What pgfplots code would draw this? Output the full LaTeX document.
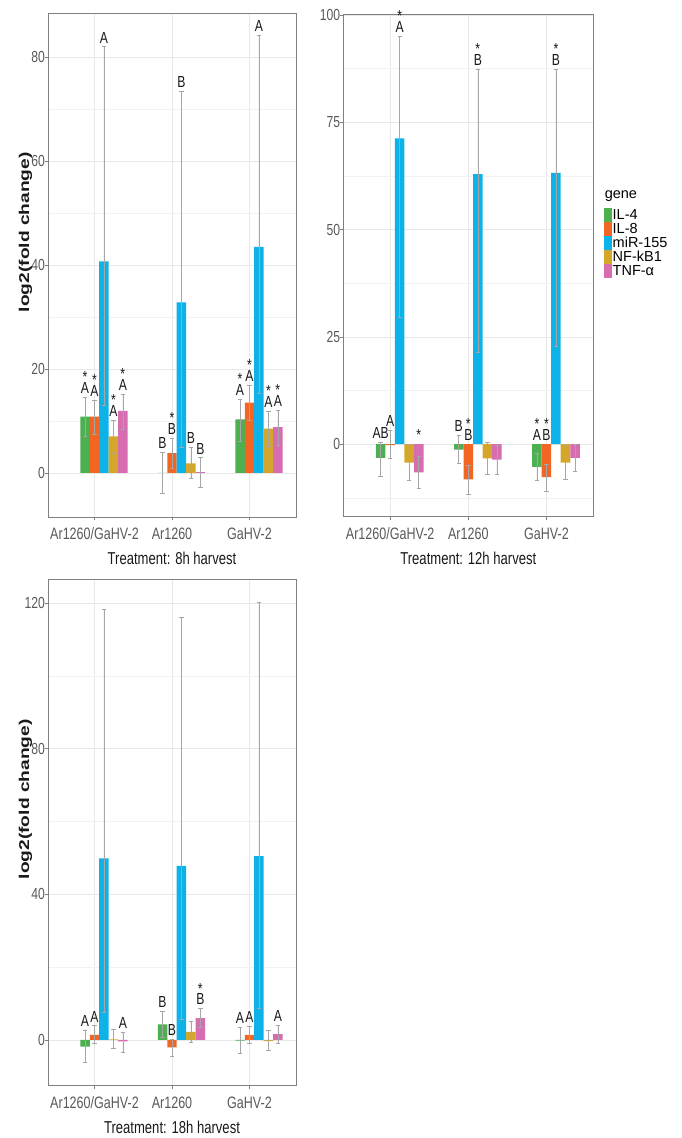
\documentclass[border=0pt]{standalone}
\usepackage{pgfplots}
\pgfplotsset{compat=1.18}
\usepackage{fontspec}
\setmainfont[FakeStretch=0.76]{Liberation Sans}
\newfontfamily\legfont{Liberation Sans}
\definecolor{cG}{HTML}{4CAF50}
\definecolor{cO}{HTML}{F26522}
\definecolor{cB}{HTML}{0DB2E8}
\definecolor{cN}{HTML}{D4A72C}
\definecolor{cP}{HTML}{D86CB1}
\pgfplotsset{
  panel/.style={
    scale only axis, clip=false,
    xmin=0.4, xmax=3.6, xtick={1,2,3},
    xticklabels={Ar1260/GaHV-2, Ar1260, GaHV-2},
    axis line style={color=black!50, line width=0.8pt},
    tick style={color=black!50, line width=0.6pt},
    tick pos=left,
    tick align=outside, major tick length=3.5pt, minor tick length=0pt,
    xmajorgrids, ymajorgrids, yminorgrids, minor y tick num=1,
    major grid style={color=black!9, line width=0.5pt},
    minor grid style={color=black!5, line width=0.4pt},
    /pgf/number format/assume math mode=true,
    ticklabel style={font=\fontsize{16.5}{18}\selectfont, color=black!65},
    xticklabel style={anchor=base, yshift=-19.5pt, inner sep=0pt},
    yticklabel style={anchor=east, inner sep=0pt, xshift=0.5pt, font=\fontsize{16}{18}\selectfont},
    xlabel style={at={(axis description cs:0.5,0)}, anchor=base, yshift=-48pt,
      font=\fontsize{17.2}{19}\selectfont, color=black!90},
    ylabel style={at={(axis description cs:-0.091,0.565)}, anchor=center, yscale=0.74,
      font=\legfont\bfseries\fontsize{19.2}{21}\selectfont, color=black!90},
    ybar, bar width=0.122, bar shift=0pt,
    error bars/y dir=both, error bars/y explicit,
    error bars/error bar style={color=black!35, line width=0.6pt},
    error bars/error mark options={color=black!35, line width=0.6pt, mark size=2.2pt, rotate=90},
  },
}
\tikzset{
  lab/.style={anchor=south, inner sep=0pt, yshift=3.5pt, align=center,
    font=\fontsize{16}{15}\selectfont, text=black!90},
}
\newcommand{\lab}[3]{\node[lab] at (axis cs:#1,#2) {#3};}
\newcommand{\sA}{*\\[-4.5pt]A}
\newcommand{\sB}{*\\[-4.5pt]B}
\begin{document}
\begin{tikzpicture}
\path[use as bounding box] (0,0) rectangle (682pt,1138pt);

% ---------------- 8h ----------------
\begin{axis}[panel, at={(48pt,621pt)}, anchor=south west,
  width=248pt, height=504pt, ymin=-8.5, ymax=88.5,
  ytick={0,20,40,60,80}, ylabel={log2(fold change)},
  xlabel={Treatment: 8h harvest}]
\addplot[fill=cG, draw=none] table[x=x, y=y, y error plus=ep, y error minus=em, row sep=\\]{
x y ep em\\ 0.878 10.8 3.8 3.8\\ 1.878 0 4.0 4.0\\ 2.878 10.3 3.9 4.3\\};
\addplot[fill=cO, draw=none] table[x=x, y=y, y error plus=ep, y error minus=em, row sep=\\]{
x y ep em\\ 1 10.8 3.2 3.3\\ 2 3.8 2.9 2.9\\ 3 13.5 3.4 3.4\\};
\addplot[fill=cB, draw=none] table[x=x, y=y, y error plus=ep, y error minus=em, row sep=\\]{
x y ep em\\ 1.122 40.7 41.3 27.7\\ 2.122 32.8 40.7 27.9\\ 3.122 43.5 40.7 28.1\\};
\addplot[fill=cN, draw=none] table[x=x, y=y, y error plus=ep, y error minus=em, row sep=\\]{
x y ep em\\ 1.244 7.0 3.2 3.2\\ 2.244 1.8 3.1 2.8\\ 3.244 8.5 3.4 3.3\\};
\addplot[fill=cP, draw=none] table[x=x, y=y, y error plus=ep, y error minus=em, row sep=\\]{
x y ep em\\ 1.366 11.9 3.3 3.5\\ 2.366 0.15 2.75 2.95\\ 3.366 8.8 3.3 3.5\\};
\lab{0.878}{14.6}{\sA}\lab{1}{14.0}{\sA}\lab{1.122}{82.0}{A}\lab{1.244}{10.2}{\sA}\lab{1.366}{15.2}{\sA}
\lab{1.878}{4.0}{B}\lab{2}{6.7}{\sB}\lab{2.122}{73.5}{B}\lab{2.244}{4.9}{B}\lab{2.366}{2.9}{B}
\lab{2.878}{14.2}{\sA}\lab{3}{16.9}{\sA}\lab{3.122}{84.2}{A}\lab{3.244}{11.9}{\sA}\lab{3.366}{12.1}{\sA}
\end{axis}

% ---------------- 12h ----------------
\begin{axis}[panel, at={(343.3pt,621.3pt)}, anchor=south west,
  width=250pt, height=502.7pt, ymin=-16.9, ymax=100.2,
  ytick={-25,0,25,50,75,100},
  xlabel={Treatment: 12h harvest},
  legend style={at={(rel axis cs:1.0428,0.6147)}, anchor=north west, draw=none, fill=none,
    font=\legfont\fontsize{14.5}{15}\selectfont, inner sep=0pt, row sep=0pt,
    nodes={inner sep=0.5pt}, cells={anchor=west},
    /tikz/every even column/.append style={column sep=1.5pt}},
  legend image code/.code={\fill[#1] (0pt,-7pt) rectangle (8pt,7pt);}]
\addplot[fill=cG, draw=none] table[x=x, y=y, y error plus=ep, y error minus=em, row sep=\\]{
x y ep em\\ 0.878 -3.2 3.6 4.2\\ 1.878 -1.3 3.4 3.2\\ 2.878 -5.3 3.1 3.1\\};
\addplot[fill=cO, draw=none] table[x=x, y=y, y error plus=ep, y error minus=em, row sep=\\]{
x y ep em\\ 1 -0.2 3.5 3.1\\ 2 -8.2 3.2 3.5\\ 3 -7.7 3.0 3.2\\};
\addplot[fill=cB, draw=none] table[x=x, y=y, y error plus=ep, y error minus=em, row sep=\\]{
x y ep em\\ 1.122 71.2 23.9 41.6\\ 2.122 62.9 24.5 41.6\\ 3.122 63.2 24.2 40.4\\};
\addplot[fill=cN, draw=none] table[x=x, y=y, y error plus=ep, y error minus=em, row sep=\\]{
x y ep em\\ 1.244 -4.3 4.3 4.1\\ 2.244 -3.3 3.8 3.8\\ 3.244 -4.3 4.1 3.8\\};
\addplot[fill=cP, draw=none] table[x=x, y=y, y error plus=ep, y error minus=em, row sep=\\]{
x y ep em\\ 1.366 -6.6 3.7 3.8\\ 2.366 -3.6 3.4 3.4\\ 3.366 -3.2 3.1 3.2\\};
\legend{IL-4, IL-8, miR-155, NF-kB1, TNF-α}
\lab{0.878}{0.4}{AB}\lab{1}{3.3}{A}\lab{1.122}{95.1}{\sA}\lab{1.366}{0}{*}
\lab{1.878}{2.1}{B}\lab{2}{0}{\sB}\lab{2.122}{87.4}{\sB}
\lab{2.878}{0}{\sA}\lab{3}{0}{\sB}\lab{3.122}{87.4}{\sB}
\node[anchor=base west, inner sep=0pt, font=\legfont\fontsize{14.5}{15}\selectfont]
  at (rel axis cs:1.045,0.6334) {gene};
\end{axis}

% ---------------- 18h ----------------
\begin{axis}[panel, at={(48pt,53pt)}, anchor=south west,
  width=248pt, height=505.7pt, ymin=-12.36, ymax=126.5,
  ytick={-40,0,40,80,120}, ylabel={log2(fold change)},
  xlabel={Treatment: 18h harvest}]
\addplot[fill=cG, draw=none] table[x=x, y=y, y error plus=ep, y error minus=em, row sep=\\]{
x y ep em\\ 0.878 -1.8 4.4 4.3\\ 1.878 4.3 3.7 3.5\\ 2.878 -0.2 3.7 3.5\\};
\addplot[fill=cO, draw=none] table[x=x, y=y, y error plus=ep, y error minus=em, row sep=\\]{
x y ep em\\ 1 1.4 2.5 2.2\\ 2 -2.0 2.2 2.6\\ 3 1.4 2.4 2.2\\};
\addplot[fill=cB, draw=none] table[x=x, y=y, y error plus=ep, y error minus=em, row sep=\\]{
x y ep em\\ 1.122 49.9 68.4 42.3\\ 2.122 47.8 68.4 42.1\\ 3.122 50.5 69.6 41.8\\};
\addplot[fill=cN, draw=none] table[x=x, y=y, y error plus=ep, y error minus=em, row sep=\\]{
x y ep em\\ 1.244 0.2 2.7 2.6\\ 2.244 2.2 2.8 2.7\\ 3.244 -0.3 3.0 2.6\\};
\addplot[fill=cP, draw=none] table[x=x, y=y, y error plus=ep, y error minus=em, row sep=\\]{
x y ep em\\ 1.366 -0.4 2.5 2.9\\ 2.366 6.0 2.7 2.4\\ 3.366 1.6 2.5 2.4\\};
\lab{0.878}{2.6}{A}\lab{1}{3.9}{A}\lab{1.366}{2.1}{A}
\lab{1.878}{8.0}{B}\lab{2}{0.2}{B}\lab{2.366}{8.7}{\sB}
\lab{2.878}{3.5}{A}\lab{3}{3.8}{A}\lab{3.366}{4.1}{A}
\end{axis}
\end{tikzpicture}
\end{document}
